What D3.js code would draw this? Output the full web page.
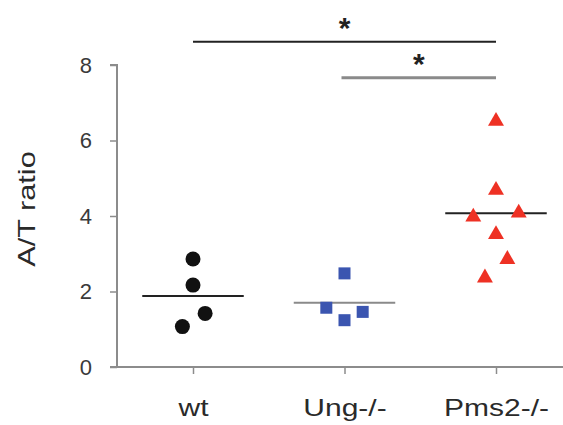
<!DOCTYPE html>
<html>
<head>
<meta charset="utf-8">
<script src="https://cdn.jsdelivr.net/npm/d3@7"></script>
<style>
  html, body { margin: 0; padding: 0; background: #fff; }
  svg { display: block; font-family: "Liberation Sans", Arial, sans-serif; }
</style>
</head>
<body>
<svg id="chart" width="563" height="425"></svg>
<script>
// ---- data ----
const categories = ["wt", "Ung-/-", "Pms2-/-"];
const wtValues   = [2.86, 2.17, 1.42, 1.07];
const ungValues  = [2.48, 1.57, 1.46, 1.24];
const pmsValues  = [6.54, 4.71, 4.00, 4.11, 3.54, 2.88, 2.39];
// horizontal jitter (fraction of category spacing) as in the figure
const wtJitter   = [0, 0, 0.08, -0.07];
const ungJitter  = [0, -0.12, 0.12, 0];
const pmsJitter  = [0, 0, -0.15, 0.15, 0, 0.075, -0.073];
const meanValues = [1.88, 1.70, 4.07];
const yTicks = [0, 2, 4, 6, 8];
const yLabel = "A/T ratio";
const sigBars = [
  { from: "wt", to: "Pms2-/-", level: 0, label: "*" },
  { from: "Ung-/-", to: "Pms2-/-", level: 1, label: "*" }
];

// ---- layout ----
const svg = d3.select("#chart");
const axisX = 117, axisY = 367;
const x = d3.scalePoint().domain(categories).range([193, 496]);
const step = x.step();
const y = d3.scaleLinear().domain([0, 8]).range([367, 65]);

// y axis
const yAxis = svg.append("g")
  .attr("transform", `translate(${axisX},0)`)
  .call(d3.axisLeft(y).tickValues(yTicks).tickSize(7).tickPadding(18).tickFormat(d3.format("d")));
yAxis.select(".domain").attr("stroke", "#8c8c8c").attr("stroke-width", 2)
  .attr("d", `M-7,${y(8)}H0V${y(0)}`);
yAxis.selectAll(".tick line").attr("stroke", "#8c8c8c").attr("stroke-width", 1.5);
yAxis.selectAll(".tick text").attr("font-size", 22).attr("fill", "#3a3a3a")
  .attr("font-family", "Liberation Sans, Arial, sans-serif");

// x axis
const xAxis = svg.append("g")
  .attr("transform", `translate(0,${axisY})`)
  .call(d3.axisBottom(x).tickSize(7).tickPadding(25));
xAxis.select(".domain").attr("stroke", "#8c8c8c").attr("stroke-width", 2)
  .attr("d", `M${axisX - 7},0H563`);
xAxis.selectAll(".tick line").attr("stroke", "#8c8c8c").attr("stroke-width", 1.5);
xAxis.selectAll(".tick text").attr("font-size", 24).attr("fill", "#2a2a2a")
  .attr("font-family", "Liberation Sans, Arial, sans-serif")
  .attr("transform", "scale(1.25,1)");

// y label
svg.append("text")
  .attr("transform", `translate(35,209) rotate(-90) scale(1.28,1)`)
  .attr("text-anchor", "middle")
  .attr("font-size", 24)
  .attr("fill", "#2a2a2a")
  .text(yLabel);

// mean lines
const meanCols = ["#222", "#8a8a8a", "#222"];
svg.append("g").selectAll("line")
  .data(categories)
  .join("line")
  .attr("x1", d => x(d) - step * 0.335)
  .attr("x2", d => x(d) + step * 0.335)
  .attr("y1", (d, i) => y(meanValues[i]))
  .attr("y2", (d, i) => y(meanValues[i]))
  .attr("stroke", (d, i) => meanCols[i])
  .attr("stroke-width", 2);

// wt circles
svg.append("g").selectAll("circle")
  .data(wtValues)
  .join("circle")
  .attr("cx", (d, i) => x("wt") + wtJitter[i] * step)
  .attr("cy", d => y(d))
  .attr("r", 7.5)
  .attr("fill", "#111");

// Ung squares
const sq = 12;
svg.append("g").selectAll("rect")
  .data(ungValues)
  .join("rect")
  .attr("x", (d, i) => x("Ung-/-") + ungJitter[i] * step - sq / 2)
  .attr("y", d => y(d) - sq / 2)
  .attr("width", sq)
  .attr("height", sq)
  .attr("fill", "#3b55b0");

// Pms2 triangles
const tri = d3.symbol().type(d3.symbolTriangle).size(110);
svg.append("g").selectAll("path")
  .data(pmsValues)
  .join("path")
  .attr("transform", (d, i) => `translate(${x("Pms2-/-") + pmsJitter[i] * step},${y(d) + 1})`)
  .attr("d", tri)
  .attr("fill", "#ee3124");

// significance bars
const barY = [41.7, 77.7];
const barCol = ["#222", "#8a8a8a"];
const barW = [2, 3];
const sig = svg.append("g");
sigBars.forEach(b => {
  const x1 = x(b.from) + (b.level === 1 ? -3 : 0);
  const x2 = x(b.to);
  sig.append("line")
    .attr("x1", x1).attr("x2", x2)
    .attr("y1", barY[b.level]).attr("y2", barY[b.level])
    .attr("stroke", barCol[b.level]).attr("stroke-width", barW[b.level]);
  sig.append("text")
    .attr("x", (x1 + x2) / 2)
    .attr("y", barY[b.level] - 4)
    .attr("text-anchor", "middle")
    .attr("font-size", 30)
    .attr("font-weight", "bold")
    .attr("fill", "#222")
    .text(b.label);
});
</script>
</body>
</html>
